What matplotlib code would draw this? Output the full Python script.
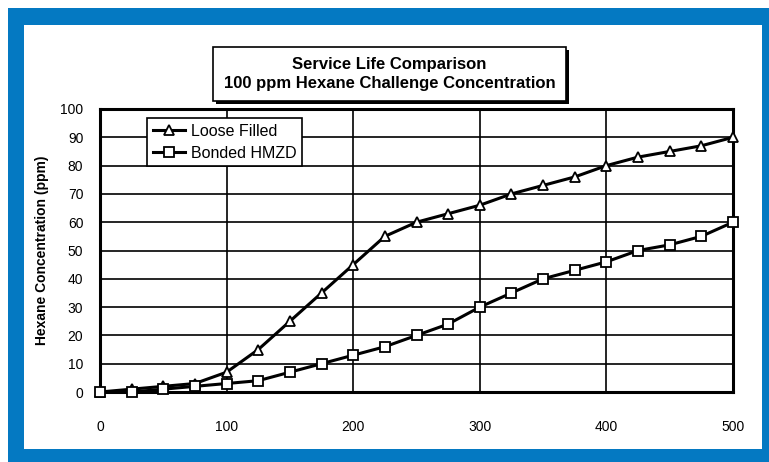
import numpy as np
import matplotlib.pyplot as plt
from matplotlib.patches import Rectangle

plt.rcParams['font.family'] = ['Liberation Sans', 'DejaVu Sans']

# service time (x) and hexane breakthrough (ppm)
x_vals = [0, 25, 50, 75, 100, 125, 150, 175, 200, 225, 250,
          275, 300, 325, 350, 375, 400, 425, 450, 475, 500]
loose_filled = [0, 1, 2, 3, 7, 15, 25, 35, 45, 55, 60,
                63, 66, 70, 73, 76, 80, 83, 85, 87, 90]
bonded_hmzd = [0, 0, 1, 2, 3, 4, 7, 10, 13, 16, 20,
               24, 30, 35, 40, 43, 46, 50, 52, 55, 60]

x_ticks = [0, 100, 200, 300, 400, 500]
y_ticks = list(range(0, 101, 10))

W, H = 769, 462
fig = plt.figure(figsize=(W / 100, H / 100), dpi=100)
fig.patch.set_facecolor('white')

# blue frame
fig.patches.append(Rectangle((8 / W, 0), 1, 1 - 8 / H, transform=fig.transFigure,
                             facecolor='#0479c2', edgecolor='none', zorder=-2))
fig.patches.append(Rectangle((24 / W, 13 / H), (762 - 24) / W, (449 - 25) / H,
                             transform=fig.transFigure, facecolor='white',
                             edgecolor='none', zorder=-1))

ax = fig.add_axes([100 / W, 1 - 392 / H, (733 - 100) / W, (392 - 109) / H])
ax.set_xlim(0, 500)
ax.set_ylim(0, 100)
ax.set_xticks(x_ticks)
ax.set_yticks(y_ticks)
ax.grid(True, color='black', linewidth=1.2)
ax.set_axisbelow(True)
for s in ax.spines.values():
    s.set_linewidth(2.2)
ax.tick_params(axis='both', length=0, labelsize=10)
ax.tick_params(axis='x', pad=20)
ax.tick_params(axis='y', pad=12)

ax.plot(x_vals, loose_filled, color='black', linewidth=2.2, marker='^',
        markersize=6.5, markerfacecolor='white', markeredgecolor='black',
        markeredgewidth=1.3, label='Loose Filled', clip_on=False, zorder=3)
ax.plot(x_vals, bonded_hmzd, color='black', linewidth=2.2, marker='s',
        markersize=6.5, markerfacecolor='white', markeredgecolor='black',
        markeredgewidth=1.3, label='Bonded HMZD', clip_on=False, zorder=3)

ax.set_ylabel('Hexane Concentration (ppm)', fontsize=10, fontweight='bold',
              labelpad=8)

leg = ax.legend(loc='upper left', bbox_to_anchor=(47 / 633, 1 - 9 / 283),
                fancybox=False, framealpha=1, edgecolor='black', fontsize=11.5,
                handlelength=2.0, borderpad=0.35, labelspacing=0.45,
                handletextpad=0.4, borderaxespad=0)
leg.get_frame().set_linewidth(1.2)

# title box with drop shadow
bx0, by0, bw, bh = 213 / W, 1 - 101 / H, (566 - 213) / W, (101 - 47) / H
fig.patches.append(Rectangle((bx0 + 3 / W, by0 - 3 / H), bw, bh,
                             transform=fig.transFigure, facecolor='black',
                             edgecolor='none', zorder=1))
fig.patches.append(Rectangle((bx0, by0), bw, bh, transform=fig.transFigure,
                             facecolor='white', edgecolor='black',
                             linewidth=1.2, zorder=2))
fig.text(bx0 + bw / 2, by0 + bh / 2,
         'Service Life Comparison\n100 ppm Hexane Challenge Concentration',
         ha='center', va='center', fontsize=12, fontweight='bold',
         linespacing=1.35, zorder=3)

fig.savefig('out.png', dpi=100)
